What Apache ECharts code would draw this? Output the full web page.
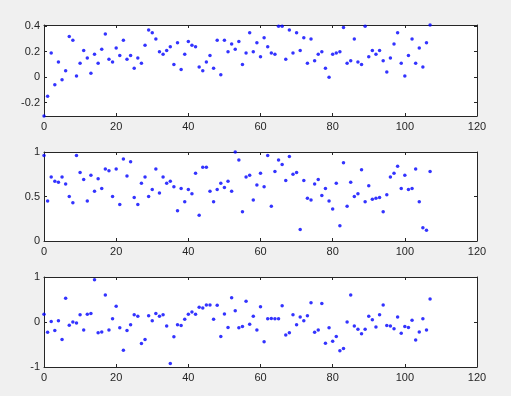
<!DOCTYPE html>
<html><head><meta charset="utf-8">
<script src="https://cdn.jsdelivr.net/npm/echarts@6/dist/echarts.min.js"></script>
<style>html,body{margin:0;padding:0;background:#f0f0f0;}#c{width:511px;height:396px;}</style>
</head><body><div id="c"></div>
<script>
const xTicks = [0, 20, 40, 60, 80, 100, 120];
const y1Ticks = [-0.2, 0, 0.2, 0.4];
const y2Ticks = [0, 0.5, 1];
const y3Ticks = [-1, 0, 1];

const series1 = [-0.305,-0.15,0.19,-0.06,0.12,-0.02,0.05,0.32,0.29,0.01,
0.11,0.21,0.15,0.03,0.18,0.11,0.22,0.34,0.14,0.12,
0.23,0.17,0.29,0.14,0.17,0.07,0.15,0.11,0.25,0.37,
0.35,0.30,0.20,0.18,0.21,0.24,0.10,0.27,0.06,0.18,
0.28,0.25,0.24,0.08,0.05,0.12,0.17,0.07,0.29,0.02,
0.29,0.20,0.26,0.22,0.28,0.10,0.19,0.35,0.20,0.27,
0.16,0.31,0.24,0.19,0.18,0.40,0.40,0.14,0.37,0.19,
0.35,0.21,0.31,0.11,0.30,0.13,0.18,0.20,0.07,0.00,
0.18,0.19,0.20,0.39,0.11,0.13,0.30,0.12,0.10,0.40,
0.16,0.21,0.18,0.21,0.13,0.04,0.15,0.26,0.35,0.11,
0.01,0.17,0.30,0.11,0.23,0.08,0.27,0.41];

const series2 = [0.96,0.45,0.72,0.67,0.66,0.72,0.64,0.50,0.43,0.96,
0.77,0.69,0.45,0.74,0.56,0.70,0.59,0.81,0.79,0.50,
0.81,0.41,0.92,0.73,0.89,0.49,0.41,0.65,0.72,0.50,
0.58,0.81,0.54,0.72,0.65,0.67,0.61,0.34,0.59,0.44,
0.58,0.53,0.76,0.29,0.83,0.83,0.56,0.44,0.58,0.65,
0.60,0.67,0.56,1.00,0.91,0.33,0.72,0.74,0.46,0.63,
0.76,0.61,0.96,0.39,0.78,0.91,0.86,0.68,0.95,0.75,
0.77,0.13,0.68,0.48,0.46,0.64,0.69,0.51,0.59,0.45,
0.36,0.65,0.17,0.88,0.39,0.66,0.50,0.53,0.80,0.44,
0.62,0.47,0.48,0.49,0.33,0.52,0.72,0.76,0.84,0.59,
0.74,0.58,0.59,0.81,0.44,0.15,0.12,0.78];

const series3 = [0.17,-0.23,0.01,-0.19,0.03,-0.39,0.53,-0.07,0.00,-0.02,
0.16,-0.18,0.17,0.19,0.94,-0.24,-0.22,0.60,-0.18,0.07,
0.35,-0.13,-0.63,-0.19,-0.06,0.16,0.13,-0.48,-0.39,0.14,
0.03,0.19,0.13,0.16,-0.09,-0.92,-0.33,-0.06,-0.08,0.06,
0.17,0.22,0.17,0.33,0.31,0.38,0.38,0.06,0.37,-0.32,
0.18,-0.12,0.54,0.25,-0.13,-0.10,0.46,-0.05,0.13,-0.18,
0.34,-0.44,0.07,0.08,0.07,0.07,0.36,-0.29,-0.24,0.16,
-0.06,0.11,0.03,0.14,0.43,-0.23,-0.18,0.41,-0.47,-0.13,
-0.43,-0.32,-0.64,-0.59,0.00,0.60,-0.09,-0.16,-0.26,-0.16,
0.13,0.05,-0.11,0.16,0.38,-0.08,-0.09,-0.15,0.11,-0.25,
-0.10,-0.12,0.04,-0.40,-0.22,0.07,-0.18,0.51];

const panels = [
  {data: series1, yMin: -0.305, yMax: 0.41, yTicks: y1Ticks, top: 25, height: 91},
  {data: series2, yMin: 0, yMax: 1, yTicks: y2Ticks, top: 152, height: 89},
  {data: series3, yMin: -1, yMax: 1, yTicks: y3Ticks, top: 277, height: 90}
];

const axisColor = '#262626';
const font = {fontFamily: 'Liberation Sans, Arial, sans-serif', fontSize: 11, color: axisColor};
const grid = [], xAxis = [], yAxis = [], series = [];
panels.forEach((p, i) => {
  grid.push({left: 44, width: 433, top: p.top, height: p.height, show: true,
    backgroundColor: '#ffffff', borderWidth: 0});
  const lineStyle = {color: axisColor, width: 1};
  ['bottom', 'top'].forEach(pos => {
    xAxis.push({type: 'value', gridIndex: i, position: pos, min: 0, max: 120,
      axisLine: {show: true, onZero: false, lineStyle},
      axisTick: {show: true, inside: true, length: 3, customValues: xTicks, lineStyle},
      axisLabel: {show: pos === 'bottom', customValues: xTicks, margin: 5, ...font},
      splitLine: {show: false}});
  });
  ['left', 'right'].forEach(pos => {
    yAxis.push({type: 'value', gridIndex: i, position: pos, min: p.yMin, max: p.yMax,
      axisLine: {show: true, onZero: false, lineStyle},
      axisTick: {show: true, inside: true, length: 3, customValues: p.yTicks, lineStyle},
      axisLabel: {show: pos === 'left', customValues: p.yTicks, margin: 4, ...font,
        formatter: v => String(Math.round(v * 10) / 10)},
      splitLine: {show: false}});
  });
  series.push({type: 'scatter', xAxisIndex: i * 2, yAxisIndex: i * 2,
    data: p.data.map((v, k) => [k, v]), symbol: 'circle', symbolSize: 3.5,
    itemStyle: {color: '#0000ff'}, clip: false, silent: true});
});

const chart = echarts.init(document.getElementById('c'), null, {renderer: 'canvas'});
chart.setOption({backgroundColor: '#f0f0f0', animation: false, grid, xAxis, yAxis, series});
</script></body></html>
